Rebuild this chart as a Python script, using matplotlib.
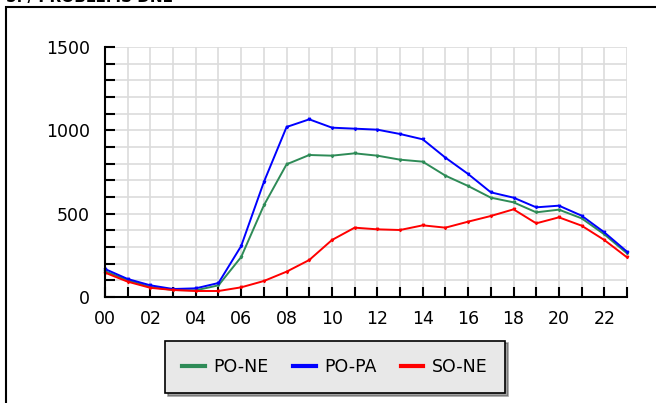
import numpy as np
import matplotlib.pyplot as plt
from matplotlib.patches import Rectangle

# hours of day
hours = list(range(24))
hour_labels = [f'{h:02d}' for h in range(0, 24, 2)]

# series values
po_ne = [155, 100, 60, 42, 40, 70, 240, 550, 796, 852, 848, 862,
         848, 824, 812, 728, 666, 596, 568, 508, 524, 472, 376, 262]
po_pa = [168, 108, 70, 48, 52, 84, 306, 690, 1020, 1066, 1016, 1010,
         1004, 978, 946, 836, 738, 628, 596, 538, 548, 488, 388, 272]
so_ne = [146, 92, 55, 42, 36, 36, 58, 96, 152, 222, 342, 416,
         406, 402, 430, 416, 452, 486, 526, 442, 478, 428, 342, 238]

series = [('PO-NE', po_ne, '#2e8b57'),
          ('PO-PA', po_pa, '#0000ff'),
          ('SO-NE', so_ne, '#ff0000')]

fig = plt.figure(figsize=(6.56, 4.03), dpi=100)

# outer frame (cut off at right and bottom) and clipped title
fig.patches.append(Rectangle((6/656, -0.1), 1.2, 1 - 7/403 + 0.1, transform=fig.transFigure,
                             fill=False, edgecolor='black', linewidth=1.5))
fig.text(6/656, 1 - 5/403, '5. / PROBLEMS DNL', fontsize=11, fontweight='bold',
         ha='left', va='bottom')

ax = fig.add_axes([105/656, 1 - 297/403, 522/656, 250/403])

for name, vals, col in series:
    ax.plot(hours, vals, color=col, linewidth=1.4, marker='v', markersize=1.8,
            label=name, clip_on=False)

ax.set_xlim(0, 23)
ax.set_ylim(0, 1500)

ax.set_xticks(hours, minor=True)
ax.set_xticks(range(0, 24, 2))
ax.set_xticklabels(hour_labels)
ax.set_yticks([0, 500, 1000, 1500])
ax.set_yticks(range(0, 1501, 100), minor=True)

ax.grid(True, which='both', color='#dcdcdc', linewidth=1.2)
ax.set_axisbelow(True)

for s in ['top', 'right']:
    ax.spines[s].set_visible(False)
for s in ['left', 'bottom']:
    ax.spines[s].set_linewidth(1.5)

ax.tick_params(axis='both', which='both', direction='in', width=1.5, labelsize=12.5, colors='black')
ax.tick_params(axis='x', which='both', length=7, pad=9)
ax.tick_params(axis='y', which='both', length=7, pad=11)

leg = fig.legend(loc='center', bbox_to_anchor=(335/656, 1 - 367/403), ncol=3,
                 fontsize=12.5, frameon=True, fancybox=False, shadow=True,
                 handlelength=1.3, columnspacing=1.4, borderpad=1.0, handletextpad=0.5)
leg.get_frame().set_facecolor('#e8e8e8')
leg.get_frame().set_edgecolor('black')
leg.get_frame().set_linewidth(1.2)
for line in leg.get_lines():
    line.set_marker('')
    line.set_linewidth(3)

fig.savefig('out.png', dpi=100, facecolor='white')
